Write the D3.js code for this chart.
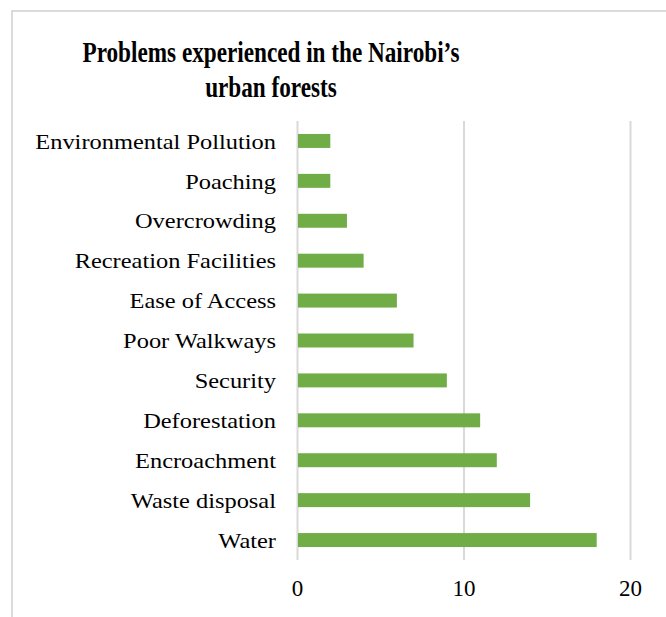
<!DOCTYPE html>
<html>
<head>
<meta charset="utf-8">
<script src="https://cdn.jsdelivr.net/npm/d3@7"></script>
<style>
  body { margin: 0; background: #fff; }
  text { font-family: "Liberation Serif", "Times New Roman", serif; fill: #000; }
</style>
</head>
<body>
<svg width="666" height="617"></svg>
<script>
  const categories = [
    "Environmental Pollution",
    "Poaching",
    "Overcrowding",
    "Recreation Facilities",
    "Ease of Access",
    "Poor Walkways",
    "Security",
    "Deforestation",
    "Encroachment",
    "Waste disposal",
    "Water",
  ];
  const counts = [2, 2, 3, 4, 6, 7, 9, 11, 12, 14, 18];
  const xTicks = [0, 10, 20];
  const titleLines = ["Problems experienced in the Nairobi\u2019s", "urban forests"];

  const svg = d3.select("svg");
  const width = +svg.attr("width");
  const height = +svg.attr("height");
  const data = categories.map((c, i) => ({ name: c, value: counts[i] }));

  // outer chart frame, only top and left edges are visible
  svg.append("path")
    .attr("d", `M12,${height} L12,11 L${width},11`)
    .attr("fill", "none")
    .attr("stroke", "#cfcfcf")
    .attr("stroke-width", 1.5);

  const margin = { top: 121, left: 297, right: 36, bottom: 57 };
  const innerWidth = width - margin.left - margin.right;
  const innerHeight = height - margin.top - margin.bottom;
  const labelStretch = 1.11;
  const titleSqueeze = 0.8;

  const xScale = d3.scaleLinear().domain([0, 20]).range([0, innerWidth]);
  const yScale = d3.scaleBand()
    .domain(categories)
    .range([0, innerHeight])
    .paddingInner(0.65)
    .paddingOuter(0.325);

  const g = svg.append("g")
    .attr("transform", `translate(${margin.left}, ${margin.top})`);

  // gridlines
  const xAxisG = g.append("g")
    .attr("transform", `translate(0, ${innerHeight})`)
    .call(d3.axisBottom(xScale).tickValues(xTicks).tickSize(-innerHeight).tickPadding(20));
  xAxisG.select(".domain").remove();
  xAxisG.selectAll(".tick line").attr("stroke", "#d9d9d9").attr("stroke-width", 2);
  xAxisG.selectAll(".tick text")
    .attr("font-size", 23)
    .style("font-family", "Liberation Serif")
    .attr("fill", "#000");

  const yAxisG = g.append("g")
    .call(d3.axisLeft(yScale).tickSize(0).tickPadding(21));
  yAxisG.select(".domain").remove();
  // labels are drawn a little wider than the font's natural width
  yAxisG.selectAll(".tick text")
    .attr("font-size", 22)
    .attr("dy", "0.35em")
    .attr("x", -21 / labelStretch)
    .attr("transform", `scale(${labelStretch}, 1)`)
    .style("font-family", "Liberation Serif")
    .attr("fill", "#000");

  g.selectAll("rect.bar")
    .data(data)
    .enter()
    .append("rect")
    .attr("class", "bar")
    .attr("x", xScale(0) + 1)
    .attr("y", (d) => yScale(d.name))
    .attr("width", (d) => xScale(d.value) - xScale(0) - 1)
    .attr("height", yScale.bandwidth())
    .attr("fill", "#70ad47");

  // title uses a condensed bold face
  const titleG = svg.append("g")
    .attr("transform", `scale(${titleSqueeze}, 1)`);
  titleG.selectAll("text")
    .data(titleLines)
    .enter()
    .append("text")
    .attr("x", 271 / titleSqueeze)
    .attr("y", (d, i) => 62 + i * 35)
    .attr("text-anchor", "middle")
    .attr("font-size", 29)
    .attr("font-weight", "bold")
    .text((d) => d);
</script>
</body>
</html>
